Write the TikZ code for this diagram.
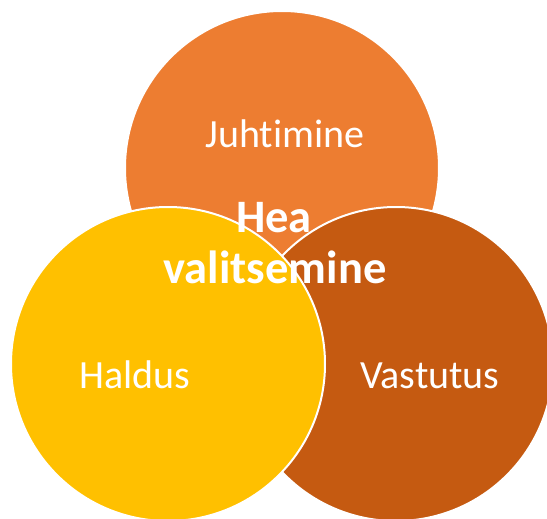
\documentclass[tikz,border=0pt]{standalone}
\usepackage{fontspec}
\setmainfont{Carlito}[Ligatures=NoCommon]
\usepackage{xcolor}
\usetikzlibrary{positioning}
\definecolor{juhtorange}{HTML}{ED7D31}
\definecolor{vastrust}{HTML}{C55A11}
\definecolor{haldgold}{HTML}{FFC000}

\begin{document}
\begin{tikzpicture}[x=1pt, y=-1pt,
  disc/.style={circle, draw=white, line width=2pt, fill=#1,
               minimum size=314pt, inner sep=0pt},
  lbl/.style={text=white, font=\fontsize{40}{48}\selectfont,
              anchor=base, inner sep=0pt},
  core/.style={text=white, font=\bfseries\fontsize{46.5}{50}\selectfont,
               anchor=base, inner sep=0pt}
]
\useasboundingbox (0,0) rectangle (547,519);
% three overlapping circles
\node[disc=juhtorange] (juht) at (282,168) {};
\node[disc=vastrust]   (vast) at (396,364) {};
\node[disc=haldgold]   (hald) at (168,364) {};
% circle labels
\node[lbl] (juhtlbl) at (285,148) {Juhtimine};
\node[lbl] (haldlbl) at (135,388) {Haldus};
\node[lbl] (vastlbl) at (430,388) {Vastutus};
% centre text
\node[core] (hea)    at (274,233) {Hea};
\node[core] (valits) at (275,283) {valitsemine};
\end{tikzpicture}
\end{document}
